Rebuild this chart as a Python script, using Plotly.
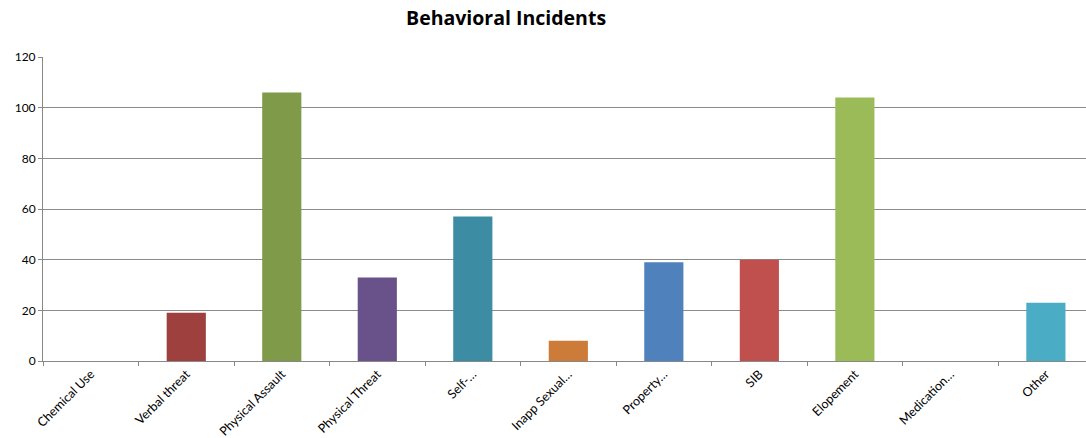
import plotly.graph_objects as go

categories = ["Chemical Use", "Verbal threat", "Physical Assault", "Physical Threat", "Self-…",
              "Inapp Sexual…", "Property…", "SIB", "Elopement", "Medication…", "Other"]
values = [0, 19, 106, 33, 57, 8, 39, 40, 104, 0, 23]
colors = ["#3D6A9E", "#9E413E", "#7F9A48", "#69518A", "#3C8DA3", "#CC7B38",
          "#4F81BD", "#C0504D", "#9BBB59", "#8064A2", "#4BACC6"]
y_ticks = [0, 20, 40, 60, 80, 100, 120]

fig = go.Figure(go.Bar(x=categories, y=values, marker=dict(color=colors, line=dict(width=0)),
                       width=0.41, hoverinfo="x+y"))

fig.update_layout(
    width=1086, height=438,
    margin=dict(l=43, r=0, t=57, b=77, autoexpand=False),
    paper_bgcolor="white", plot_bgcolor="white",
    title=dict(text="<b>Behavioral Incidents</b>", x=0.466, xanchor="center", y=0.958, yanchor="middle",
               font=dict(family="Open Sans, sans-serif", size=19.5, color="#000000")),
    font=dict(family="Lato, Open Sans, sans-serif", color="#000000"),
    showlegend=False,
    bargap=0.59,
)
fig.update_xaxes(
    type="category", range=[-0.5, 10.42], automargin=False,
    showline=True, linecolor="#888888", linewidth=1,
    ticks="outside", ticklen=4, tickcolor="#888888", tickson="boundaries",
    tickangle=-45, tickfont=dict(size=12.5, color="#000000"),
    showgrid=False, fixedrange=True,
)
fig.update_yaxes(
    range=[0, 120], tickvals=y_ticks, automargin=False,
    showline=True, linecolor="#888888", linewidth=1,
    ticks="outside", ticklen=4, tickcolor="#888888",
    showgrid=True, gridcolor="#8A8A8A", gridwidth=1,
    zeroline=False, tickfont=dict(size=12, color="#000000"),
    fixedrange=True,
)

fig.write_html("out.html")
